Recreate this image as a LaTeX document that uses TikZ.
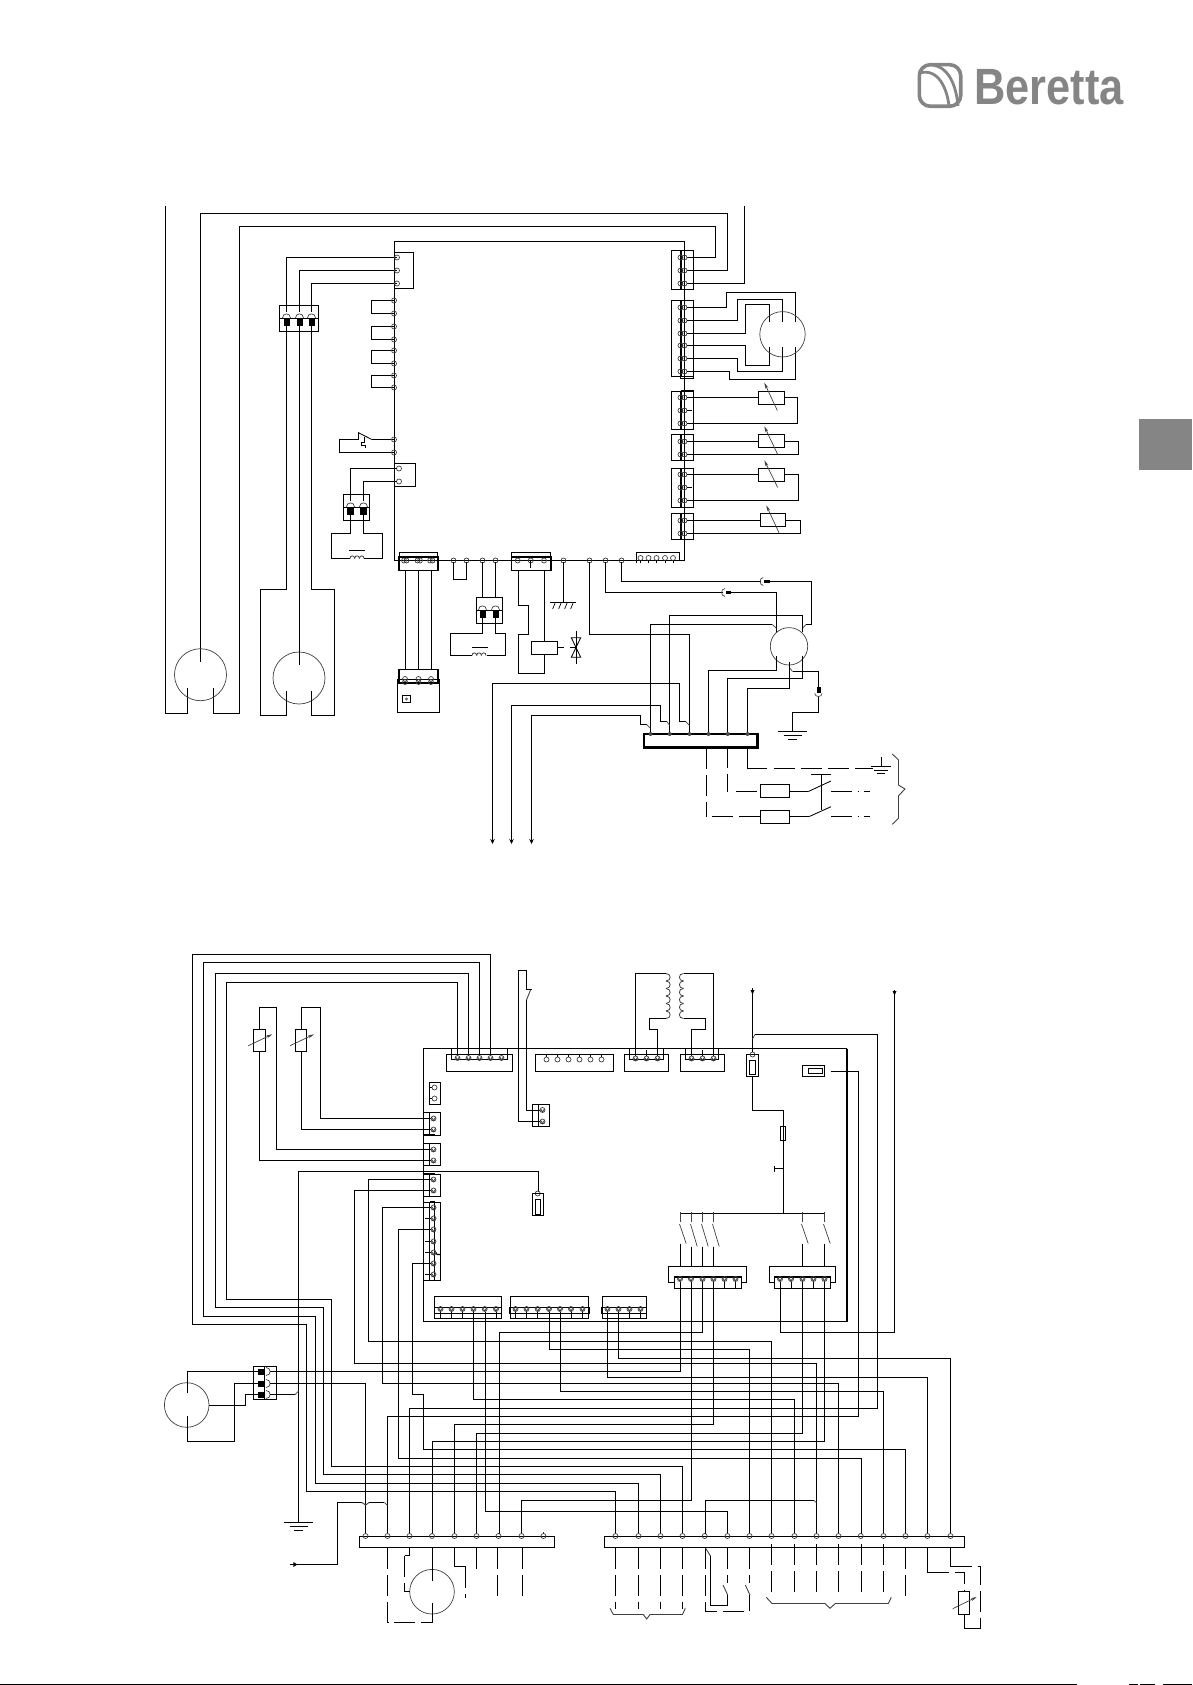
\documentclass[tikz,border=0pt]{standalone}
\usepackage{fontspec}
\newfontfamily\logofont{Liberation Sans}
\usetikzlibrary{arrows.meta}
\definecolor{logogrey}{HTML}{858585}
\tikzset{
 w/.style={line width=1.1pt,black,line cap=butt,line join=miter},
 thin0/.style={line width=0.7pt,black!75},
 fine/.style={line width=.85pt,black},
 dsh/.style={line width=1.1pt,black,dash pattern=on 21pt off 6pt},
 res/.style={thin0,-{Stealth[length=6pt,width=3pt]}},
 downarr/.style={w,-{Stealth[length=5pt,width=4.5pt]}},
}
% pins
\newcommand{\pn}[2]{\draw[thin0] (#1,#2) circle (2.5pt);}
\newcommand{\dpn}[1]{\draw[thin0] (680.5,#1) circle (2.5pt) (684.5,#1) circle (2.5pt);}
\newcommand{\xpn}[2]{\draw[thin0] (#1,#2) circle (2.5pt) (#1-2,#2-1.5)--(#1,#2+2)--(#1+2,#2-1.5);}
\newcommand{\rterm}[2]{\draw[w] (671.5,#1) rectangle (693.5,#2); \draw[line width=1.7pt] (680.7,#1)--(680.7,#2);}
\newcommand{\lterm}[2]{\draw[w] (423.5,#1) rectangle (440.5,#2); \draw[w] (429.5,#1)--(429.5,#2);}
\newcommand{\farc}[2]{\draw[thin0] (#1-4,#2) .. controls (#1-4,#2-5.5) and (#1+4,#2-5.5) .. (#1+4,#2);}
\newcommand{\blk}[4]{\fill[black] (#1,#2) rectangle (#3,#4);}
\newcommand{\hcoil}[2]{\foreach \k in {0,1,2}{\draw[thin0,line width=.8pt] (#1+\k*4.7,#2) .. controls (#1+\k*4.7,#2-3.5) and (#1+\k*4.7+4.7,#2-3.5) .. (#1+\k*4.7+4.7,#2);}}
\newcommand{\vcoil}[3]{\foreach \k in {0,...,5}{\draw[thin0,line width=.8pt] (#1,#2+\k*7.5) .. controls (#1+#3,#2+\k*7.5) and (#1+#3,#2+\k*7.5+7.5) .. (#1,#2+\k*7.5+7.5);}}
\newcommand{\grnd}[2]{\draw[fine] (#1-14.5,#2)--(#1+14.5,#2) (#1-9,#2+4)--(#1+9,#2+4) (#1-4.2,#2+8)--(#1+4.2,#2+8);}
\begin{document}
\begin{tikzpicture}[x=1pt,y=-1pt]
\useasboundingbox (0,0) rectangle (1192,1685);
% ---------- page furniture
\fill[logogrey] (1139,419) rectangle (1192,470);
\draw[logogrey,line width=3.6pt,rounded corners=11pt] (919.3,64.7) rectangle (960.7,106.3);
\draw[logogrey,line width=2.8pt] (920,73) .. controls (938,68) and (947,88) .. (949,106);
\draw[logogrey,line width=2.8pt] (931,65) .. controls (948,66) and (956,84) .. (958,106);
\node[anchor=base west,inner sep=0pt,text=logogrey] (logo) at (974,105) {\logofont\bfseries\fontsize{51}{51}\selectfont\scalebox{0.85}[1]{Beretta}};
\draw[black,line width=1.6pt] (0,1684.6)--(1077,1684.6);
\draw[black,line width=1.6pt] (1129,1684.6)--(1138,1684.6) (1140,1684.6)--(1155,1684.6) (1163,1684.6)--(1192,1684.6);

% ================= UPPER DIAGRAM ================
\draw[w] (394.5,241.5) rectangle (684.5,560.5);
% long outer wires
\draw[w] (165.5,206)--(165.5,713.5)--(187.5,713.5)--(187.5,687.5);
\draw[w] (200.5,661.5)--(200.5,213.5)--(727.5,213.5)--(727.5,270.5)--(686.5,270.5);
\draw[w] (213.5,687.5)--(213.5,713.5)--(239.5,713.5)--(239.5,226.5)--(715.5,226.5)--(715.5,257.5)--(686.5,257.5);
\draw[w] (744.5,206)--(744.5,283.5)--(686.5,283.5);
\draw[thin0] (200.5,674.7) circle (26pt);
\draw[thin0] (299,678) circle (26pt);
% wires to second motor
\draw[w] (397,257.5)--(286.5,257.5)--(286.5,589.5)--(260.5,589.5)--(260.5,715.5)--(286.5,715.5)--(286.5,690.5);
\draw[w] (397,270.5)--(299.5,270.5)--(299.5,665);
\draw[w] (397,283.5)--(311.5,283.5)--(311.5,589.5)--(334.5,589.5)--(334.5,715.5)--(311.5,715.5)--(311.5,690.5);
\draw[w] (394.5,252.5) rectangle (413.5,288.5);
\foreach \y in {257.5,270.5,283.5}{\pn{397}{\y}}
% connector
\draw[w,fill=white] (279.5,305.5) rectangle (318.5,331.5);
\draw[w] (279.5,318.5)--(318.5,318.5);
\foreach \x in {286.5,299.5,311.5}{\blk{\x-3}{318.5}{\x+3}{326}\farc{\x}{318}\draw[w] (\x,326)--(\x,331.5) (\x,305.5)--(\x,312);}
% jumpers
\foreach \a/\b in {300.5/313.5,326.5/339.5,350.5/363.5,375.5/387.5}{\draw[w] (394,\a)--(371.5,\a)--(371.5,\b)--(394,\b); \pn{394}{\a}\pn{394}{\b}}
% thermostat
\draw[w] (394,439.5)--(371.7,439.5); \draw[fine] (371.7,439.5)--(358.5,432.7)--(358.5,439.5);
\draw[w] (358.5,439.5)--(339.5,439.5)--(339.5,452.5)--(394,452.5);
\draw[fine] (364,437.3)--(364,442.7)--(361,442.7)--(361,445.3)--(365,445.3)--(365,448.3);
\pn{394}{439.5}\pn{394}{452.5}
% two-pin box + connector + coil
\draw[w] (394.5,463.5) rectangle (415.5,486.5);
\pn{399}{468.5}\pn{399}{481.5}
\draw[w] (397,468.5)--(350.5,468.5)--(350.5,533.5)--(331.5,533.5)--(331.5,558.5)--(350,558.5);
\draw[w] (397,481.5)--(363.5,481.5)--(363.5,533.5)--(382.5,533.5)--(382.5,558.5)--(364,558.5);
\draw[w,fill=white,line width=1.5pt] (343.7,494.3) rectangle (369.3,520.3);
\draw[w] (343.7,507.5)--(369.3,507.5);
\foreach \x in {350.5,363.5}{\blk{\x-3.3}{507.5}{\x+3.3}{515}\farc{\x}{507}\draw[w] (\x,494.3)--(\x,501) (\x,515)--(\x,520.3);}
\hcoil{350}{558.5}
\draw[fine] (349,550.5)--(365,550.5);
% bottom-row connector A and cell
\draw[w] (399.5,552.5) rectangle (437.5,556.7);
\draw[w,line width=1.6pt] (398.7,556.7) rectangle (437.7,570.3);
\foreach \x in {405,418.5,431}{\draw[thin0] (\x-1,560.5) circle (2.5pt) (\x+1.5,560.5) circle (2.5pt);}
\foreach \x in {405.5,418.5,431.5}{\draw[w] (\x,570.3)--(\x,669.5);}
\draw[w] (397.5,679.5) rectangle (439.5,712.5);
\draw[w,line width=1.6pt] (398.7,669.5) rectangle (437.7,682.7);
\foreach \x in {405,418.5,431}{\draw[thin0] (\x,679) circle (2.5pt) (\x,682) circle (2.5pt);}
\draw[w] (402.5,695.5) rectangle (410.5,702.5);
\fill[black!60] (406.5,699) circle (1.6pt);
% loop
\pn{453.5}{560.5}\pn{466.5}{560.5}\draw[w] (453.5,562)--(453.5,579.5)--(466.5,579.5)--(466.5,562);
% second coil
\pn{482.5}{560.5}\pn{495.5}{560.5}
\draw[w] (482.5,562)--(482.5,597.5) (495.5,562)--(495.5,597.5);
\draw[w,fill=white] (476.5,597.5) rectangle (502.5,623.5);
\draw[line width=1.5pt] (502.5,597.5)--(502.5,623.5);
\draw[w] (476.5,610.5)--(502.5,610.5);
\foreach \x in {482.5,495.5}{\blk{\x-3}{610.5}{\x+3}{618}\farc{\x}{610}}
\draw[w] (482.5,618)--(482.5,633.5)--(450.5,633.5)--(450.5,655.5)--(471.7,655.5);
\draw[w] (495.5,618)--(495.5,633.5)--(505.5,633.5)--(505.5,655.5)--(487.3,655.5);
\hcoil{472}{655.5}
\draw[fine] (471.7,647.5)--(487.7,647.5);
% connector B
\draw[w] (511.5,552.5) rectangle (550.5,556.7);
\draw[w,line width=1.6pt] (511.5,556.7) rectangle (550.7,570.3);
\foreach \x in {517.7,530.7,544}{\pn{\x}{560.5}}
\draw[w] (530.5,560)--(530.5,568);
\draw[w] (518.5,570.3)--(518.5,605.5)--(528.5,605.5)--(528.5,634.5)--(518.5,634.5)--(518.5,673.5)--(544.5,673.5)--(544.5,654.5);
\draw[w] (544.5,570.3)--(544.5,641.5);
\draw[w] (531.5,641.5) rectangle (557.5,654.5);
\draw[w] (557.5,647.5)--(563.5,647.5); \draw[w] (569.5,647.5)--(576.5,647.5);
% valve
\draw[fine] (571.3,637.7)--(580.7,637.7)--(571.3,657.3)--(580.7,657.3)--cycle;
\draw[fine] (576,631)--(576,663.7);
% frame ground
\pn{563.5}{560.5}\draw[w] (563.5,562)--(563.5,602.5);
\draw[w] (550,602.5)--(576,602.5);
\foreach \x in {555.3,561.3,567.3,573.3}{\draw[w,line width=.7pt] (\x,602.5)--(\x-2.7,609);}
% corner connector
\draw[w] (636.5,562.5)--(636.5,552.5)--(679.5,552.5)--(679.5,560);
\foreach \x in {640.5,648.5,656.5,665,673}{\pn{\x}{558}\draw[fine] (\x,560)--(\x,562.5);}
% right terminals
\rterm{250.5}{289.5}\foreach \y in {257.5,270.5,283.5}{\dpn{\y}}
\rterm{300.5}{376.5}\draw[w] (680.7,376.5)--(680.7,378.5)--(693.5,378.5)--(693.5,376.5);
\foreach \y in {307.5,320.5,333.5,345.5,358.5,371.5}{\dpn{\y}}
\rterm{391.5}{429.5}\draw[line width=1.6pt] (680.7,390.6)--(693.5,390.6);\foreach \y in {397.5,410.5,423.5}{\dpn{\y}}
\rterm{434.5}{460.5}\foreach \y in {441.5,454.5}{\dpn{\y}}
\rterm{468.5}{507.5}\foreach \y in {474.5,487.5,500.5}{\dpn{\y}}
\rterm{513.5}{539.5}\foreach \y in {520.5,533.5}{\dpn{\y}}
% pump motor
\draw[w] (686.5,307.5)--(726.5,307.5)--(726.5,292.5)--(795.5,292.5)--(795.5,321.7);
\draw[w] (686.5,320.5)--(737.5,320.5)--(737.5,299.5)--(782.5,299.5)--(782.5,321.7);
\draw[w] (686.5,333.5)--(745.5,333.5)--(745.5,304.5)--(769.5,304.5)--(769.5,321.7);
\draw[w] (686.5,345.5)--(745.5,345.5)--(745.5,365.5)--(769.5,365.5)--(769.5,347.3);
\draw[w] (686.5,358.5)--(737.5,358.5)--(737.5,371.5)--(782.5,371.5)--(782.5,347.3);
\draw[w] (686.5,371.5)--(729.5,371.5)--(729.5,379.5)--(795.5,379.5)--(795.5,347.3);
\draw[thin0] (782.5,334.3) circle (22.7pt);
% sensors
\draw[w] (686.5,397.5)--(758.5,397.5) (784.5,397.5)--(797.5,397.5)--(797.5,423.5)--(686.5,423.5) (686.5,410.5)--(692,410.5);
\draw[w] (758.5,391.5) rectangle (784.5,404.5);
\draw[res] (777.3,410.5)--(764.3,382.7);
\draw[w] (686.5,441.5)--(758.5,441.5) (784.5,441.5)--(798.5,441.5)--(798.5,454.5)--(686.5,454.5);
\draw[w] (758.5,434.5) rectangle (784.5,447.5);
\draw[res] (777.7,454.5)--(764.3,426.3);
\draw[w] (686.5,474.5)--(758.5,474.5) (784.5,474.5)--(798.5,474.5)--(798.5,500.5)--(686.5,500.5) (686.5,487.5)--(692,487.5);
\draw[w] (758.5,468.5) rectangle (784.5,481.5);
\draw[res] (777.7,487.5)--(764.3,460.3);
\draw[w] (686.5,520.5)--(760.5,520.5) (785.5,520.5)--(800.5,520.5)--(800.5,533.5)--(686.5,533.5);
\draw[w] (760.5,513.5) rectangle (785.5,526.5);
\draw[res] (779.3,533.5)--(766.3,505.3);
% lower-right wires of upper diagram
\foreach \x in {589.5,605.5,621.5}{\pn{\x}{560.5}}
\draw[w] (589.5,562)--(589.5,634.5)--(689.5,634.5)--(689.5,734);
\draw[w] (605.5,562)--(605.5,592.5)--(722.7,592.5);
\draw[thin0] (725,588.5) .. controls (720.5,589) and (720.5,596) .. (725,596.5);
\blk{726}{590.7}{731}{594.3}
\draw[w] (731,592.5)--(776.5,592.5)--(776.5,632.7);
\draw[w] (621.5,562)--(621.5,581.5)--(761,581.5);
\draw[thin0] (763.3,577.5) .. controls (759,578) and (759,585) .. (763.3,585.5);
\blk{764.3}{579.7}{770}{583.3}
\draw[w] (770,581.5)--(811.5,581.5)--(811.5,624.5)--(806,624.5); \draw[thin0] (806,624.5)--(802.5,628.3);
\draw[w] (669.5,734)--(669.5,615.5)--(802.5,615.5)--(802.5,631.7);
\draw[w] (650.5,734)--(650.5,624.5)--(772.3,624.5); \draw[thin0] (772.3,624.5)--(776.5,628.3);
\draw[thin0] (789,646.3) circle (18.7pt);
\draw[w] (708.5,734)--(708.5,670.5)--(776.5,670.5)--(776.5,656);
\draw[w] (727.5,734)--(727.5,678.5)--(802.5,678.5)--(802.5,656);
\draw[w] (747.5,734)--(747.5,688.5)--(789.5,688.5)--(789.5,662.3);
\draw[thin0] (790,668.3)--(792.5,671.5);
\draw[w] (792.5,671.5)--(818.5,671.5)--(818.5,686.7);
\blk{816.5}{686.7}{820.5}{692.7}
\draw[thin0] (814.7,693.5) .. controls (815,697.5) and (822,697.5) .. (822,693.5);
\draw[w] (818.5,696.7)--(818.5,712.5)--(792.5,712.5)--(792.5,731.5);
\grnd{792.5}{731.5}
% strip
\draw[line width=2.4pt] (644,734) rectangle (757.3,747.3);
\foreach \x in {650.5,669.7,689.5,708.5,727.7,747.5}{\fill[black!70] (\x,734) circle (2pt);}
% incoming arrows
\draw[downarr] (679.5,721.5)--(679.5,683.5)--(492.5,683.5)--(492.5,844);
\draw[w] (679.5,721.5)--(685.7,721.5); \draw[thin0] (685.7,721.5)--(689.5,725.3);
\draw[downarr] (660.5,721.5)--(660.5,705.5)--(511.5,705.5)--(511.5,844);
\draw[w] (660.5,721.5)--(666.7,721.5); \draw[thin0] (666.7,721.5)--(669.7,725.3);
\draw[downarr] (640.5,724.5)--(640.5,715.5)--(531.5,715.5)--(531.5,844);
\draw[w] (640.5,724.5)--(646.7,724.5); \draw[thin0] (646.7,724.5)--(650.5,728.3);
% mains
\draw[w] (747.5,747.3)--(747.5,768.5)--(767,768.5);
\draw[dsh] (774.3,768.5)--(873.3,768.5);
\draw[fine] (881,756.7)--(881,766.5) (871,766.5)--(891,766.5) (874.3,770.5)--(887.7,770.5) (876.7,773.5)--(884.7,773.5);
\draw[dsh] (727.5,747.3)--(727.5,791.5);
\draw[dsh] (736,791.5)--(760.5,791.5);
\draw[w] (760.5,784.5) rectangle (789.5,797.5);
\draw[w] (789.5,791.5)--(808.3,791.5); \draw[fine] (808.3,791.5)--(831,781);
\draw[dsh] (831,791.5)--(858.5,791.5); \draw[w] (864.3,791.5)--(870,791.5);
\draw[dsh] (706.5,748)--(706.5,816.5);
\draw[dsh] (712,816.5)--(760.5,816.5);
\draw[w] (760.5,810.5) rectangle (789.5,823.5);
\draw[w] (789.5,816.5)--(809.3,816.5); \draw[fine] (809.3,816.5)--(831,806.7);
\draw[dsh] (831,816.5)--(858.5,816.5); \draw[w] (864.3,816.5)--(870,816.5);
\draw[fine] (821.5,774.5)--(821.5,810) (811,774.5)--(831,774.5);
\draw[thin0,line width=.9pt] (892.3,754)--(898.5,760)--(898.5,785)--(905,789)--(898.5,795.7)--(898.5,818.3)--(892.3,824.3);

% ================= LOWER DIAGRAM ================
\draw[w] (847,1048.5)--(423.5,1048.5)--(423.5,1321.5)--(847,1321.5);
\draw[w] (847,1048.5)--(847,1321.5);
\draw[line width=1.7pt,dash pattern=on 9pt off 2pt] (847.2,1048.5)--(847.2,1321.5);
% top connector + nested wires
\draw[w] (446.5,1054.5) rectangle (512.5,1071.5);
\draw[w] (451.5,1048.5)--(451.5,1059.5)--(507.5,1059.5)--(507.5,1048.5);
\foreach \x in {457.5,468.5,479.5,490.5,501.5}{\xpn{\x}{1058}}
\draw[w] (490.5,1055)--(490.5,954.5)--(192.5,954.5)--(192.5,1324.5)--(306.5,1324.5)--(306.5,1491.5)--(615.5,1491.5)--(615.5,1534);
\draw[w] (479.5,1055)--(479.5,962.5)--(203.5,962.5)--(203.5,1316.5)--(315.5,1316.5)--(315.5,1483.5)--(638.5,1483.5)--(638.5,1534);
\draw[w] (468.5,1055)--(468.5,973.5)--(215.5,973.5)--(215.5,1307.5)--(323.5,1307.5)--(323.5,1474.5)--(660.5,1474.5)--(660.5,1534);
\draw[w] (457.5,1055)--(457.5,982.5)--(226.5,982.5)--(226.5,1299.5)--(331.5,1299.5)--(331.5,1466.5)--(682.5,1466.5)--(682.5,1534);
% resistors
\draw[w] (253.5,1029.5) rectangle (265.5,1051.5);
\draw[w] (259.5,1029.5)--(259.5,1007.5)--(276.5,1007.5)--(276.5,1149.5)--(431,1149.5);
\draw[w] (259.5,1051.5)--(259.5,1160.5)--(431,1160.5);
\draw[res] (248.3,1045.7)--(272.3,1034.3);
\draw[w] (295.5,1029.5) rectangle (306.5,1051.5);
\draw[w] (301.5,1029.5)--(301.5,1007.5)--(320.5,1007.5)--(320.5,1118.5)--(431,1118.5);
\draw[w] (301.5,1051.5)--(301.5,1129.5)--(431,1129.5);
\draw[res] (290,1045.7)--(314,1034.3);
% left terminals
\draw[w] (429.5,1082.5) rectangle (440.5,1104.5);
\foreach \y in {1087.5,1098.5}{\pn{434.5}{\y}\draw[fine] (429.5,\y)--(432,\y);}
\lterm{1112.5}{1135.5}\draw[line width=1.6pt] (423.5,1134.7)--(434.5,1134.7);\foreach \y in {1118.5,1129.5}{\xpn{433.5}{\y}}
\lterm{1143.5}{1165.5}\foreach \y in {1149.5,1160.5}{\xpn{433.5}{\y}}
\lterm{1174.5}{1196.5}\draw[line width=1.6pt] (423.5,1174)--(434.5,1174);\foreach \y in {1179.5,1190.5}{\xpn{433.5}{\y}}
\lterm{1202.5}{1280.5}\draw[w] (434.5,1201.5)--(434.5,1280.5);\draw[line width=1.6pt] (429.5,1201.5)--(434.5,1201.5);\draw[line width=1.6pt] (429.5,1280.5)--(434.5,1280.5);
\foreach \y in {1207.5,1218.5,1229.5,1241.5,1252.5,1263.5,1274.5}{\xpn{433.5}{\y}}
\foreach \y in {1218.5,1241.5,1252.5,1274.5}{\draw[w] (425,\y)--(431,\y);}
\draw[w] (436,1252.5)--(437,1254.5)--(440.5,1254.5);
% line to fuse and ground
\draw[w] (298.5,1522.5)--(298.5,1171.5)--(538.5,1171.5)--(538.5,1192);
\grnd{298.5}{1522.5}
\pn{537.7}{1193.5}
\draw[w] (532.5,1193.5) rectangle (543.5,1215.5);
\draw[w] (535.5,1199.5) rectangle (540.5,1214.5);
% wires from left terminals to strip
\draw[w] (431,1179.5)--(368.5,1179.5)--(368.5,1341.5)--(771.5,1341.5)--(771.5,1534);
\draw[w] (431,1190.5)--(354.5,1190.5)--(354.5,1363.5)--(816.5,1363.5)--(816.5,1534);
\draw[w] (431,1207.5)--(382.5,1207.5)--(382.5,1383.5)--(838.5,1383.5)--(838.5,1534);
\draw[w] (431,1229.5)--(398.5,1229.5)--(398.5,1458.5)--(861.5,1458.5)--(861.5,1534);
\draw[w] (431,1263.5)--(412.5,1263.5)--(412.5,1394.5)--(423.5,1394.5)--(423.5,1449.5)--(905.5,1449.5)--(905.5,1534);
% bottom board connectors
\draw[w] (434.5,1296.5) rectangle (501.5,1318.5);
\draw[w] (434.5,1307.5)--(501.5,1307.5) (434.5,1313.5)--(501.5,1313.5);
\foreach \x in {440.5,451.5,462.5,473.5,484.7,496}{\xpn{\x}{1309}}
\foreach \x in {440.5,451.5,462.5,496}{\draw[fine] (\x,1312)--(\x,1318);}
\draw[w] (510.5,1296.5) rectangle (588.5,1318.5);
\draw[w] (510.5,1307.5)--(588.5,1307.5) (510,1313.5)--(589.3,1313.5);
\draw[line width=1.5pt] (509.5,1307)--(509.5,1313.5) (588.8,1307)--(588.8,1313.5);
\foreach \x in {515.5,526.5,537.7,549,560,571,582.5}{\xpn{\x}{1309}}
\foreach \x in {515.5,526.5,537.7,571,582.5}{\draw[fine] (\x,1312)--(\x,1318);}
\draw[w] (602.5,1296.5) rectangle (646.5,1318.5);
\draw[w] (602.5,1307.5)--(646.5,1307.5) (602.5,1313.5)--(646.5,1313.5);
\draw[line width=1.5pt] (602,1307)--(602,1313.5) (646.7,1307)--(646.7,1313.5);
\foreach \x in {607.5,618.5,629.5,640.5}{\xpn{\x}{1309}}
\foreach \x in {629.5,640.5}{\draw[fine] (\x,1312)--(\x,1318);}
\draw[w] (473.5,1312)--(473.5,1399.5)--(794.5,1399.5)--(794.5,1534);
\draw[w] (485.5,1312)--(485.5,1511.5)--(727.5,1511.5)--(727.5,1534);
\draw[w] (549.5,1312)--(549.5,1349.5)--(749.5,1349.5)--(749.5,1534);
\draw[w] (560.5,1312)--(560.5,1391.5)--(883.5,1391.5)--(883.5,1534);
\draw[w] (607.5,1312)--(607.5,1377.5)--(927.5,1377.5)--(927.5,1534);
\draw[w] (618.5,1312)--(618.5,1358.5)--(950.5,1358.5)--(950.5,1534);
% switch connectors
\draw[w] (668.5,1266.5) rectangle (746.5,1282.5);
\draw[w,fill=white] (674.5,1276.7) rectangle (741.5,1288.5);
\draw[line width=1.7pt] (674.5,1276.7)--(741.5,1276.7);
\foreach \x in {680,691,702.5,713.5,724.5,735.5}{\xpn{\x}{1279}}
\foreach \x in {724.5,735.5}{\draw[fine] (\x,1282)--(\x,1288);}
\draw[w] (769.5,1266.5) rectangle (835.5,1282.5);
\draw[w,fill=white] (774.5,1276.7) rectangle (830.5,1288.5);
\draw[line width=1.7pt] (774.5,1276.7)--(830.5,1276.7);
\foreach \x in {780,791,802.5,813.5,824.5}{\xpn{\x}{1279}}
\foreach \x in {791,813.5}{\draw[fine] (\x,1282)--(\x,1288);}
% relay contacts
\draw[w] (680.5,1213.5)--(824.5,1213.5);
\foreach \x/\yb in {680.5/1243.5,691.5/1246.5,702.5/1246.5,713.5/1246.5,802.5/1243.5,824.5/1243.5}{
 \draw[w] (\x,\yb)--(\x,1266.5);
 \draw[thin0] (\x,1212)--(\x,1222);
 \draw[thin0] (\x-1,1224)--(\x+5.7,\yb);}
\draw[w] (783.5,1213.5)--(783.5,1110.5)--(752.5,1110.5)--(752.5,1076.5);
\draw[w] (780.5,1126.5) rectangle (785.5,1140.5);
\draw[w] (774.5,1168.5)--(783.5,1168.5) (774.5,1166)--(774.5,1171.5);
\draw[w] (746.5,1054.5) rectangle (758.5,1076.5);
\draw[w] (749.5,1060.5) rectangle (755.5,1074.5);
\pn{752.5}{1054.5}
\draw[w] (752.5,1052)--(752.5,987.5);
\fill[black] (750.5,990)--(754.5,990)--(752.5,994.5)--cycle;
% other wires down
\draw[w] (680.5,1282)--(680.5,1371.5)--(270,1371.5);
\draw[w] (691.5,1282)--(691.5,1500.5)--(521.5,1500.5)--(521.5,1534);
\draw[w] (702.5,1282)--(702.5,1332.5)--(499.5,1332.5)--(499.5,1534);
\draw[w] (713.5,1282)--(713.5,1424.5)--(454.5,1424.5)--(454.5,1534);
\draw[w] (780.5,1282)--(780.5,1332.5)--(894.5,1332.5)--(894.5,990);
\fill[black] (892.5,991)--(896.5,991)--(894.5,995.5)--cycle;
\draw[w] (802.5,1282)--(802.5,1433.5)--(476.5,1433.5)--(476.5,1534);
\draw[w] (824.5,1282)--(824.5,1441.5)--(432.5,1441.5)--(432.5,1534);
\draw[w] (830.5,1071.5)--(858.5,1071.5)--(858.5,1416.5)--(387.5,1416.5)--(387.5,1534);
\draw[thin0] (752.5,1039)--(755,1034.5);
\draw[w] (755,1034.5)--(877.5,1034.5)--(877.5,1408.5)--(409.5,1408.5)--(409.5,1534);
\draw[w] (802.5,1065.5) rectangle (824.5,1076.5);
\draw[w] (808.5,1068.5) rectangle (822.5,1073.5);
% transformer
\draw[w] (635.5,1056)--(635.5,973.5)--(666,973.5);
\vcoil{666}{973.5}{5.5}
\draw[w] (666,1018.5)--(649.5,1018.5)--(649.5,1029.5)--(657.5,1029.5)--(657.5,1056);
\draw[w] (713.5,1056)--(713.5,973.5)--(683.5,973.5);
\vcoil{683.5}{973.5}{-5.5}
\draw[w] (683.5,1018.5)--(705.5,1018.5)--(705.5,1029.5)--(691.5,1029.5)--(691.5,1056);
\draw[w] (624.5,1054.5) rectangle (668.5,1071.5);
\draw[w] (629.5,1048.5)--(629.5,1059.5)--(663.5,1059.5)--(663.5,1048.5);
\foreach \x in {635.5,646.5,657.5}{\xpn{\x}{1058.5}}
\draw[fine] (646.5,1050)--(646.5,1056);
\draw[w] (680.5,1054.5) rectangle (724.5,1071.5);
\draw[w] (685.5,1048.5)--(685.5,1059.5)--(718.5,1059.5)--(718.5,1048.5);
\foreach \x in {691.5,702.5,713.5}{\xpn{\x}{1058.5}}
\draw[fine] (702.5,1050)--(702.5,1056);
\draw[w] (535.5,1054.5) rectangle (613.5,1071.5);
\foreach \x in {546.5,557.5,568.5,579.5,590.5,601.5}{\pn{\x}{1059.5}\draw[fine] (\x,1055)--(\x,1057);}
% door switch terminal
\draw[w] (532.5,1104.5) rectangle (549.5,1126.5);
\draw[w] (538.5,1104.5)--(538.5,1126.5);
\xpn{542.5}{1110}\xpn{542.5}{1121.5}
\draw[w] (540,1110.5)--(526.5,1110.5)--(526.5,1000);
\draw[thin0,line width=.9pt] (526.5,1000)--(530.7,989.5);
\draw[fine] (526.5,989.5)--(532.3,989.5);
\draw[w] (526.5,989.5)--(526.5,970.5)--(518.5,970.5)--(518.5,1121.5)--(540,1121.5);
% fan and mains connector
\draw[thin0] (186.7,1405) circle (22.3pt);
\draw[w] (187.5,1393.3)--(187.5,1371.5)--(258,1371.5);
\draw[w] (187.5,1416)--(187.5,1441.5)--(234.5,1441.5)--(234.5,1383.5)--(258,1383.5);
\draw[w] (209.3,1405.5)--(245.5,1405.5)--(245.5,1394.5)--(258,1394.5);
\draw[w] (253.5,1366.5) rectangle (276.5,1399.5);
\draw[w] (264.5,1366.5)--(264.5,1399.5);
\blk{258}{1368.5}{264.5}{1374.5}\blk{258}{1380.5}{264.5}{1386.5}\blk{258}{1391.5}{264.5}{1397.5}
\foreach \y in {1371.5,1383.5,1394.5}{\draw[thin0] (266,\y-4) .. controls (271.5,\y-4) and (271.5,\y+4) .. (266,\y+4);}
\draw[w] (270,1383.5)--(365.5,1383.5)--(365.5,1534);
\draw[w] (270,1394.5)--(295,1394.5); \draw[thin0] (295,1394.5)--(298.5,1391);
% lower-left strip
\draw[w] (359.5,1536.5) rectangle (554.5,1547.5);
\foreach \x in {365.5,387.5,409.5,432,454.5,476.5,498.5,521.5,543.5}{\pn{\x}{1536}}
\draw[thin0] (543.5,1533.5)--(543.5,1532);
\draw[w] (290,1564.5)--(337.5,1564.5)--(337.5,1502.5)--(361.7,1502.5);
\fill[black] (293.3,1562)--(293.3,1567)--(297.5,1564.5)--cycle;
\draw[thin0,line width=.9pt] (361.7,1502.5)--(365.7,1505)--(369,1502.5);
\draw[w] (369,1502.5)--(384.3,1502.5); \draw[thin0] (384.3,1502.5)--(387.5,1505.3);
% below lower-left strip
\draw[thin0] (432,1591.7) circle (22.3pt);
\draw[dsh] (387.5,1548)--(387.5,1622.5)--(432.5,1622.5);
\draw[w] (432.5,1622.5)--(432.5,1602.7);
\draw[w] (409.5,1547.5)--(409.5,1555.5)--(404.5,1555.5);
\draw[dsh] (404.5,1555.5)--(404.5,1591.5);
\draw[w] (404.5,1591.5)--(409.7,1591.5);
\draw[w] (432.5,1547.5)--(432.5,1580.7);
\draw[w] (454.5,1547.5)--(454.5,1566.5)--(465.5,1566.5);
\draw[dsh] (465.5,1566.5)--(465.5,1597.7);
\draw[w] (476.5,1547.5)--(476.5,1569.3);
\draw[dsh] (497.5,1547.5)--(497.5,1600.7);
\draw[dsh] (522.5,1547.5)--(522.5,1600.7);
% right strip
\draw[w] (604.5,1536.5) rectangle (964.5,1547.5);
\foreach \x in {615.5,638.5,660.5,682.5,704.7,727.5,749.5,771.5,794.5,816.5,838.5,860.7,883.5,905.5,927.5,950.5}{\pn{\x}{1536}}
\draw[w] (705.5,1534)--(705.5,1500.5)--(814,1500.5); \draw[thin0] (814,1500.5)--(816.5,1502.7);
% below right strip
\foreach \x in {615.5,638.5,660.5,682.5}{\draw[dsh] (\x,1547.5)--(\x,1608.5);}
\draw[thin0,line width=.9pt] (610,1608.3)--(613.3,1614.5)--(643.3,1614.5)--(646.7,1619)--(650,1614.5)--(682.5,1614.5)--(685.3,1608.3);
\draw[dsh] (705.5,1548)--(705.5,1611.5)--(749.5,1611.5)--(749.5,1595);
\draw[dsh] (749.5,1547.5)--(749.5,1583);
\draw[thin0,line width=.9pt] (745.3,1585)--(750,1595);
\draw[thin0,line width=.9pt] (705.5,1548)--(710.5,1556);
\draw[w] (710.5,1556)--(710.5,1605.5)--(727.5,1605.5)--(727.5,1595);
\draw[dsh] (727.5,1547.5)--(727.5,1583);
\draw[thin0,line width=.9pt] (723,1585)--(727.7,1595);
\foreach \x in {771.5,794.5,816.5,838.5,861.5,883.5}{\draw[dsh] (\x,1544)--(\x,1597.5);}
\draw[dsh] (905.5,1547.5)--(905.5,1600.7);
\draw[thin0,line width=.9pt] (766.3,1597.3)--(772,1603.5)--(825,1603.5)--(830,1608.3)--(835.3,1603.5)--(888.3,1603.5)--(891.3,1597.3);
\draw[w] (927.5,1547.5)--(927.5,1572.5);
\draw[dsh] (927.5,1572.5)--(964.5,1572.5)--(964.5,1591.5);
\draw[w] (950.5,1547.5)--(950.5,1566.5);
\draw[dsh] (950.5,1566.5)--(980.5,1566.5)--(980.5,1628.5);
\draw[w] (980.5,1628.5)--(964.5,1628.5)--(964.5,1614.5);
\draw[w] (958.5,1591.5) rectangle (969.5,1614.5);
\draw[res] (952.7,1608.7)--(976.7,1597);
\end{tikzpicture}
\end{document}
